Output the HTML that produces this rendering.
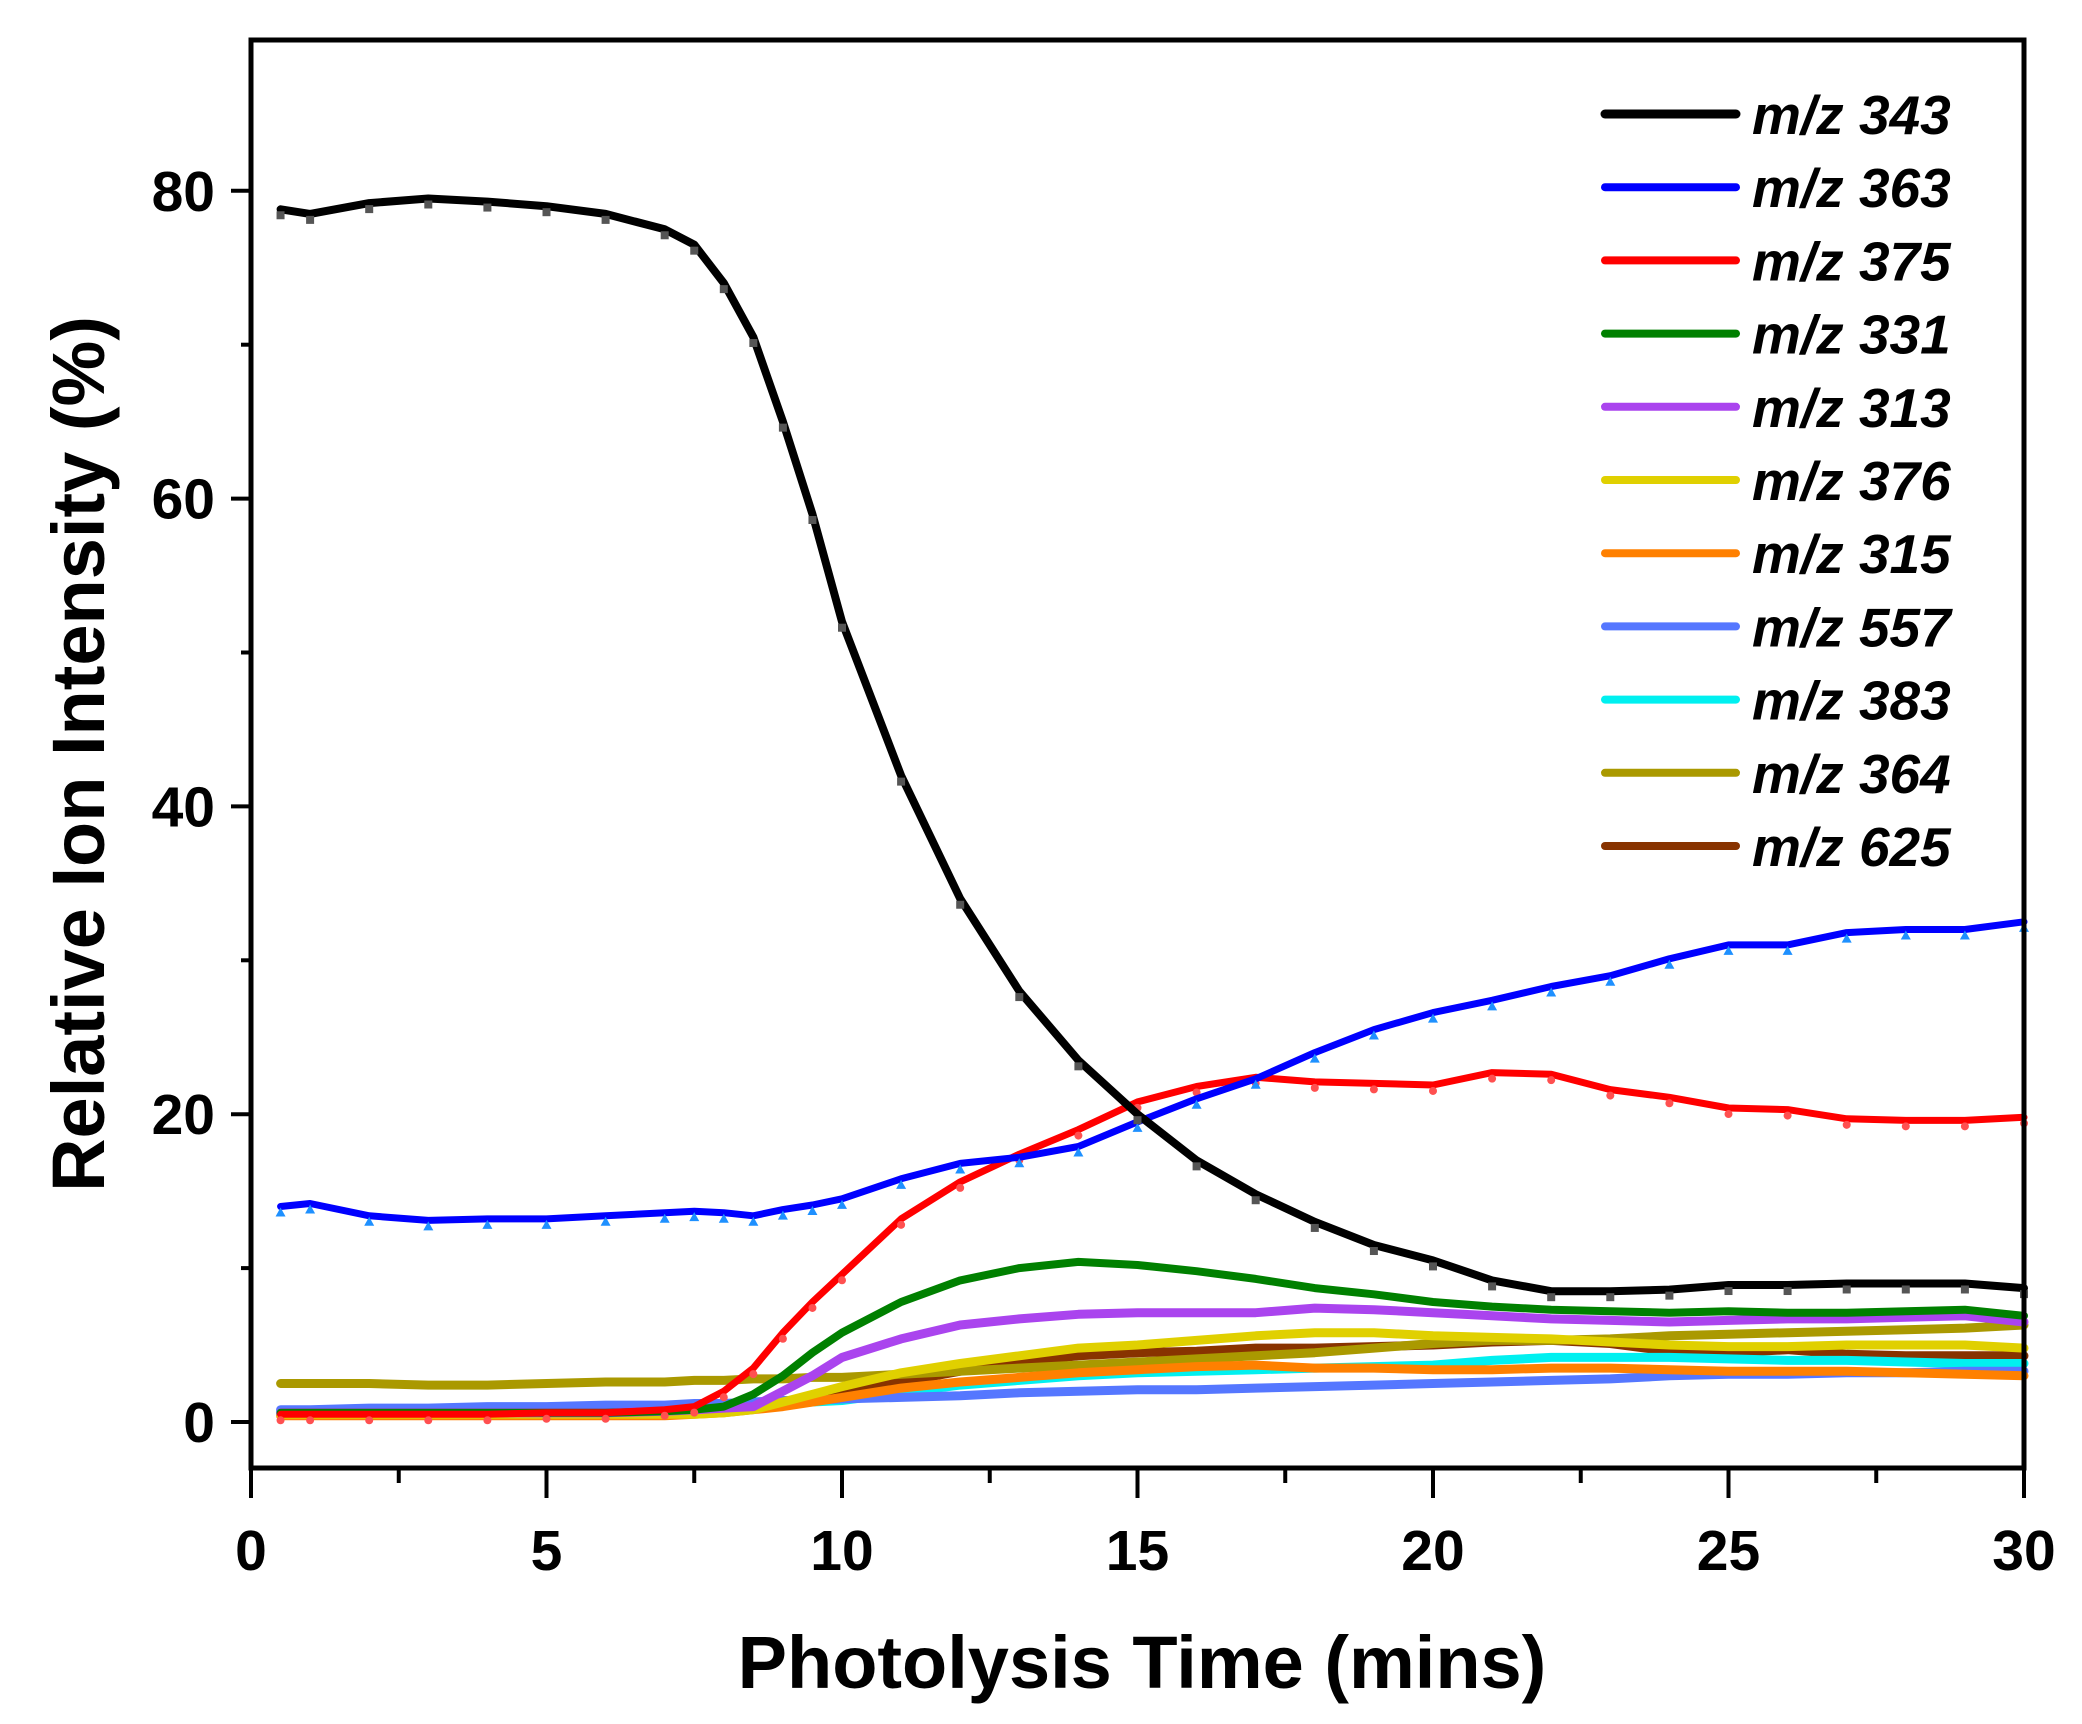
<!DOCTYPE html>
<html><head><meta charset="utf-8"><style>
html,body{margin:0;padding:0;background:#fff}
svg{display:block}
text{font-family:"Liberation Sans",Arial,sans-serif;font-weight:bold;fill:#000}
</style></head><body>
<svg id="chart" width="2082" height="1724" viewBox="0 0 2082 1724" xmlns="http://www.w3.org/2000/svg">
<g id="grid"></g><g id="series"></g><g id="axes"></g><g id="legend"></g>
</svg>
<script>
const times=[0.5,1,2,3,4,5,6,7,7.5,8,8.5,9,9.5,10,11,12,13,14,15,16,17,18,19,20,21,22,23,24,25,26,27,28,29,30];
const s343=[78.8,78.5,79.2,79.5,79.3,79,78.5,77.5,76.5,74,70.5,65,59,52,42,34,28,23.5,20,17,14.8,13,11.5,10.5,9.2,8.5,8.5,8.6,8.9,8.9,9,9,9,8.7];
const s363=[14,14.2,13.4,13.1,13.2,13.2,13.4,13.6,13.7,13.6,13.4,13.8,14.1,14.5,15.8,16.8,17.2,17.9,19.5,21,22.3,24,25.5,26.6,27.4,28.3,29,30.1,31,31,31.8,32,32,32.5];
const s375=[0.5,0.5,0.5,0.5,0.5,0.6,0.6,0.8,1,2,3.5,5.8,7.8,9.6,13.2,15.6,17.4,19,20.8,21.8,22.4,22.1,22,21.9,22.7,22.6,21.6,21.1,20.4,20.3,19.7,19.6,19.6,19.8];
const s331=[0.6,0.6,0.6,0.6,0.6,0.6,0.6,0.7,0.8,1,1.8,3,4.5,5.8,7.8,9.2,10,10.4,10.2,9.8,9.3,8.7,8.3,7.8,7.5,7.3,7.2,7.1,7.2,7.1,7.1,7.2,7.3,6.9];
const s313=[0.6,0.6,0.6,0.6,0.6,0.6,0.6,0.7,0.8,0.9,1,2,3,4.2,5.4,6.3,6.7,7,7.1,7.1,7.1,7.4,7.3,7.1,6.9,6.7,6.6,6.5,6.6,6.7,6.7,6.8,6.9,6.5];
const s376=[0.5,0.5,0.5,0.5,0.5,0.5,0.5,0.5,0.5,0.6,0.8,1.3,1.8,2.3,3.2,3.8,4.3,4.8,5,5.3,5.6,5.8,5.8,5.6,5.5,5.4,5.2,5,4.9,4.9,5,5,5,4.8];
const s315=[0.4,0.4,0.4,0.4,0.4,0.4,0.4,0.4,0.5,0.6,0.8,1,1.3,1.6,2.2,2.6,2.9,3.2,3.4,3.6,3.7,3.5,3.5,3.4,3.4,3.5,3.5,3.4,3.3,3.3,3.3,3.2,3.1,3.0];
const s557=[0.8,0.8,0.9,0.9,1,1,1.1,1.1,1.2,1.2,1.3,1.4,1.4,1.5,1.6,1.7,1.9,2,2.1,2.1,2.2,2.3,2.4,2.5,2.6,2.7,2.8,3,3.1,3.1,3.2,3.2,3.3,3.3];
const s383=[0.7,0.7,0.7,0.7,0.8,0.8,0.9,0.9,1,1,1.1,1.2,1.3,1.4,1.9,2.4,2.7,3,3.2,3.3,3.4,3.5,3.6,3.7,4,4.2,4.2,4.2,4.1,4,4,3.9,3.8,3.8];
const s364=[2.5,2.5,2.5,2.4,2.4,2.5,2.6,2.6,2.7,2.7,2.8,2.8,2.9,2.9,3.1,3.3,3.5,3.7,3.9,4.1,4.3,4.5,4.8,5.1,5.3,5.3,5.4,5.6,5.7,5.8,5.9,6,6.1,6.3];
const s625=[0.5,0.5,0.5,0.5,0.5,0.5,0.5,0.6,0.6,0.8,1,1.2,1.5,1.8,2.6,3.3,3.9,4.3,4.5,4.6,4.8,4.8,4.9,5,5.2,5.3,5.1,4.6,4.5,4.7,4.4,4.3,4.3,4.3];
const legendLabels=["m/z 343","m/z 363","m/z 375","m/z 331","m/z 313","m/z 376","m/z 315","m/z 557","m/z 383","m/z 364","m/z 625"];
const xTicks=[0,5,10,15,20,25,30];
const yTicks=[0,20,40,60,80];

const NS="http://www.w3.org/2000/svg";
const X0=251,X1=2024,YT=40,YB=1468;
const xs=v=>X0+(v-0)/30*(X1-X0);
const ys=v=>1422-v*15.39;
function mk(tag,attrs,parent){const e=document.createElementNS(NS,tag);for(const k in attrs)e.setAttribute(k,attrs[k]);parent.appendChild(e);return e;}
const series=[
 {d:s343,c:"#000000",m:"sq",mc:"#555",w:8},
 {d:s363,c:"#0000ff",m:"tri",mc:"#1e90ff",w:7},
 {d:s375,c:"#ff0000",m:"dot",mc:"#ff5050",w:7},
 {d:s331,c:"#008000",w:8},
 {d:s313,c:"#aa44ee",w:9},
 {d:s376,c:"#e0d000",w:9},
 {d:s315,c:"#ff8000",w:9},
 {d:s557,c:"#5577ff",w:9},
 {d:s383,c:"#00f0f0",w:9},
 {d:s364,c:"#aa9900",w:9},
 {d:s625,c:"#883300",w:9}
];
const sg=document.getElementById('series');
const order=[10,9,8,7,6,5,4,3,2,1,0];
order.forEach(i=>{
 const s=series[i];
 const p=mk('polyline',{points:s.d.map((v,j)=>xs(times[j]).toFixed(1)+','+ys(v).toFixed(1)).join(' '),fill:'none',stroke:s.c,'stroke-width':s.w,'stroke-linejoin':'round','stroke-linecap':'round'},sg);
 
 
 if(s.m){s.d.forEach((v,j)=>{const x=xs(times[j]),y=ys(v)+6;let e;
  if(s.m==='sq')e=mk('rect',{x:x-4,y:y-4,width:8,height:8,fill:s.mc},sg);
  else if(s.m==='tri')e=mk('polygon',{points:`${x},${y-5} ${x-5},${y+4} ${x+5},${y+4}`,fill:s.mc},sg);
  else e=mk('circle',{cx:x,cy:y,r:4,fill:s.mc},sg);
  
  });}
});
const ax=document.getElementById('axes');
const fr=mk('rect',{x:X0,y:YT,width:X1-X0,height:YB-YT,fill:'none',stroke:'#000','stroke-width':5},ax);

for(let v=10;v<=80;v+=10){const major=v%20===0;mk('line',{x1:X0-(major?20:10),x2:X0,y1:ys(v),y2:ys(v),stroke:'#000','stroke-width':4},ax);}
mk('line',{x1:X0-20,x2:X0,y1:ys(0),y2:ys(0),stroke:'#000','stroke-width':4},ax);
yTicks.forEach(v=>{const t=mk('text',{x:X0-36,y:ys(v)+20,'text-anchor':'end','font-size':57},ax);t.textContent=v;
 });
for(let v=0;v<=30;v+=2.5){const major=v%5===0;mk('line',{x1:xs(v),x2:xs(v),y1:YB,y2:YB+(major?30:15),stroke:'#000','stroke-width':4},ax);}
xTicks.forEach(v=>{const t=mk('text',{x:xs(v),y:1570,'text-anchor':'middle','font-size':57},ax);t.textContent=v;
 });
const xl=mk('text',{x:1142,y:1688,'text-anchor':'middle','font-size':74},ax);xl.textContent='Photolysis Time (mins)';

const yl=mk('text',{x:0,y:0,'text-anchor':'middle','font-size':74,transform:'translate(104,754) rotate(-90)'},ax);yl.textContent='Relative Ion Intensity (%)';

const lg=document.getElementById('legend');
legendLabels.forEach((lab,i)=>{const y=114+i*73.2;
 const g=mk('g',{},lg);
 
 mk('line',{x1:1605,x2:1736,y1:y,y2:y,stroke:series[i].c,'stroke-width':i===0?9:8,'stroke-linecap':'round'},g);
 const t=mk('text',{x:1752,y:y+20,'font-size':55,'font-style':'italic'},g);t.textContent=lab;});
</script>
</body></html>
